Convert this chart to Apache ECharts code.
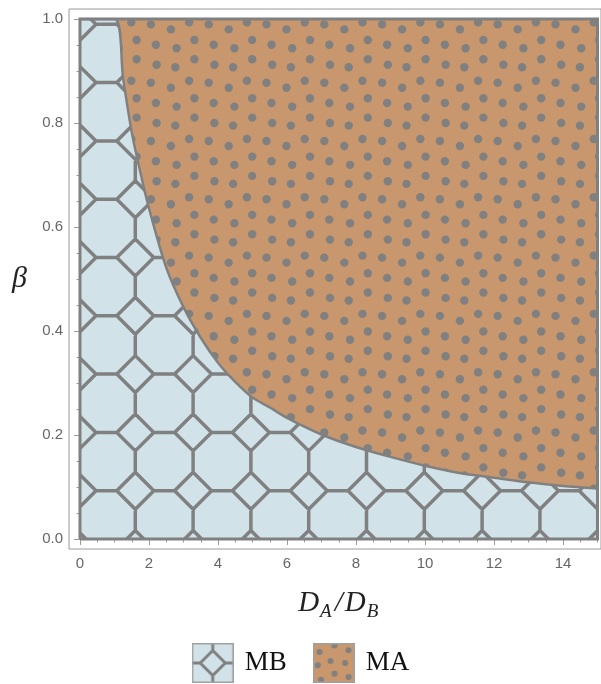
<!DOCTYPE html>
<html>
<head>
<meta charset="utf-8">
<script src="https://cdn.jsdelivr.net/npm/echarts@6/dist/echarts.min.js"></script>
<style>
html,body{margin:0;padding:0;background:#fff;}
#chart{width:601px;height:684px;}
</style>
</head>
<body>
<div id="chart"></div>
<script>
// ---------------- DATA ----------------
const seriesNames = ['MB', 'MA'];
// boundary between the two phases
const boundaryX    = [0, 1, 1.25, 1.5, 1.75, 2, 2.5, 3, 3.5, 4, 4.5, 5, 5.5, 6, 7, 8, 9, 10, 11, 12, 13, 14, 15];
const boundaryBeta = [1, 1, 0.886, 0.782, 0.705, 0.636, 0.522, 0.446, 0.387, 0.339, 0.302, 0.272, 0.253, 0.233, 0.201, 0.177, 0.158, 0.141, 0.127, 0.118, 0.109, 0.102, 0.097];
const xMajorTicks = [0, 2, 4, 6, 8, 10, 12, 14];
const xMinorTicks = [0, 0.5, 1, 1.5, 2, 2.5, 3, 3.5, 4, 4.5, 5, 5.5, 6, 6.5, 7, 7.5, 8, 8.5, 9, 9.5, 10, 10.5, 11, 11.5, 12, 12.5, 13, 13.5, 14, 14.5, 15];
const yMajorTicks = [0, 0.2, 0.4, 0.6, 0.8, 1.0];
const yMinorTicks = [0, 0.05, 0.1, 0.15, 0.2, 0.25, 0.3, 0.35, 0.4, 0.45, 0.5, 0.55, 0.6, 0.65, 0.7, 0.75, 0.8, 0.85, 0.9, 0.95, 1.0];
const xRange = [0, 15];
const yRange = [0, 1];

// ---------------- STYLE ----------------
const W = 601, H = 684;
const GRID = {left: 80, top: 19, width: 517.5, height: 520};
const FRAME_GAP = {left: 11, top: 10, right: 10, bottom: 10};
const GRAY = '#808080';
const MB_FILL = '#d1e3e9';
const MA_FILL = '#c9976d';
const FRAME_COLOR = '#9a9a9a';
const LABEL_COLOR = '#666666';
const PX = 57.8, PY = 58.3;           // pattern period (px)
const OCT = {ox: 55.3, oy: 471.7, h: 18.5, lw: 3.5};
const DOT = {ox: 230, oy: 21, r: 4.2};
const DOT_OFFS = [[0,0],[19.3,4.7],[40,8.3],[0,19.3],[20,24.7],[38.7,27.3],[-5.3,40.7],[14.3,42.7],[34.3,47.7]];

function octCanvas(w, h, x0, y0, half, lw) {
  const c = document.createElement('canvas'); c.width = w; c.height = h;
  const g = c.getContext('2d');
  g.fillStyle = MB_FILL; g.fillRect(0, 0, w, h);
  g.strokeStyle = GRAY; g.lineWidth = lw; g.lineJoin = 'miter';
  const i0 = Math.floor(-x0 / PX) - 1, i1 = Math.ceil((w - x0) / PX) + 1;
  const j0 = Math.floor(-y0 / PY) - 1, j1 = Math.ceil((h - y0) / PY) + 1;
  g.beginPath();
  for (let i = i0; i <= i1; i++) {
    for (let j = j0; j <= j1; j++) {
      const cx = x0 + i * PX, cy = y0 + j * PY;
      g.moveTo(cx - half, cy); g.lineTo(cx, cy - half); g.lineTo(cx + half, cy); g.lineTo(cx, cy + half); g.closePath();
      g.moveTo(cx + half, cy); g.lineTo(cx + PX - half, cy);
      g.moveTo(cx, cy + half); g.lineTo(cx, cy + PY - half);
    }
  }
  g.stroke();
  return c;
}
function dotCanvas(w, h, x0, y0, r) {
  const c = document.createElement('canvas'); c.width = w; c.height = h;
  const g = c.getContext('2d');
  g.fillStyle = MA_FILL; g.fillRect(0, 0, w, h);
  g.fillStyle = GRAY;
  const i0 = Math.floor(-x0 / PX) - 1, i1 = Math.ceil((w - x0) / PX) + 1;
  const j0 = Math.floor(-y0 / PY) - 1, j1 = Math.ceil((h - y0) / PY) + 1;
  for (let i = i0; i <= i1; i++) {
    for (let j = j0; j <= j1; j++) {
      DOT_OFFS.forEach(function (o) {
        g.beginPath();
        g.arc(x0 + i * PX + o[0], y0 + j * PY + o[1], r, 0, Math.PI * 2);
        g.fill();
      });
    }
  }
  return c;
}
function iconMB() {
  const c = document.createElement('canvas'); c.width = 42; c.height = 40;
  const g = c.getContext('2d');
  g.fillStyle = MB_FILL; g.fillRect(0, 0, 42, 40);
  g.strokeStyle = GRAY; g.lineWidth = 3;
  const cx = 21, cy = 20, hh = 12.5;
  g.beginPath();
  g.moveTo(cx - hh, cy); g.lineTo(cx, cy - hh); g.lineTo(cx + hh, cy); g.lineTo(cx, cy + hh); g.closePath();
  g.moveTo(0, cy); g.lineTo(cx - hh, cy);
  g.moveTo(cx + hh, cy); g.lineTo(42, cy);
  g.moveTo(cx, 0); g.lineTo(cx, cy - hh);
  g.moveTo(cx, cy + hh); g.lineTo(cx, 40);
  g.stroke();
  g.strokeStyle = '#a0a0a0'; g.lineWidth = 1.5; g.strokeRect(0.75, 0.75, 40.5, 38.5);
  return c.toDataURL();
}
function iconMA() {
  const c = document.createElement('canvas'); c.width = 42; c.height = 40;
  const g = c.getContext('2d');
  g.fillStyle = MA_FILL; g.fillRect(0, 0, 42, 40);
  g.fillStyle = GRAY;
  [[6.7,9],[21.7,2.5],[35.7,7.3],[17.7,18],[32.3,20],[5,22.3],[21.7,30.7],[35.7,34],[8.3,36.7]].forEach(function (p) {
    g.beginPath(); g.arc(p[0], p[1], 3, 0, Math.PI * 2); g.fill();
  });
  g.strokeStyle = '#a0a0a0'; g.lineWidth = 1.5; g.strokeRect(0.75, 0.75, 40.5, 38.5);
  return c.toDataURL();
}

const mbPattern = octCanvas(W, H, GRID.left + OCT.ox, GRID.top + OCT.oy, OCT.h, OCT.lw);
const maPattern = dotCanvas(W, H, GRID.left + DOT.ox, GRID.top + DOT.oy, DOT.r);

const boundary = boundaryX.map(function (x, i) { return [x, boundaryBeta[i]]; });
const outline = [[xRange[0], yRange[0]], [xRange[1], yRange[0]], [xRange[1], yRange[1]], [xRange[0], yRange[1]], [xRange[0], yRange[0]]];

const labelFont = {color: LABEL_COLOR, fontSize: 15, fontFamily: 'Liberation Sans'};
function xAx(pos, ticks, len, labels) {
  return {
    type: 'value', gridIndex: 0, min: xRange[0], max: xRange[1], interval: 0.5,
    position: pos, offset: 10,
    axisLine: {show: false}, splitLine: {show: false},
    axisTick: {show: true, inside: true, length: len, customValues: ticks, lineStyle: {color: FRAME_COLOR, width: 1}},
    axisLabel: labels ? Object.assign({show: true, customValues: ticks, margin: 7}, labelFont) : {show: false}
  };
}
function yAx(pos, ticks, len, labels) {
  return {
    type: 'value', gridIndex: 0, min: yRange[0], max: yRange[1], interval: 0.05,
    position: pos, offset: pos === 'left' ? FRAME_GAP.left : FRAME_GAP.right,
    axisLine: {show: false}, splitLine: {show: false},
    axisTick: {show: true, inside: true, length: len, customValues: ticks, lineStyle: {color: FRAME_COLOR, width: 1}},
    axisLabel: labels ? Object.assign({show: true, customValues: ticks, margin: 6, formatter: function (v) { return v.toFixed(1); }}, labelFont) : {show: false}
  };
}

const xAxes = [
  xAx('bottom', xMajorTicks, 6, true),
  xAx('bottom', xMinorTicks, 3.5, false),
  xAx('top', xMajorTicks, 6, false),
  xAx('top', xMinorTicks, 3.5, false),
  {type: 'value', gridIndex: 1, show: false, min: 0, max: 1}
];
Object.assign(xAxes[0], {
  name: '{d|D}{s|A}{d|/}{d|D}{s|B}', nameLocation: 'middle', nameGap: 36,
  nameTextStyle: {
    rich: {
      d: {fontFamily: 'Liberation Serif', fontStyle: 'italic', fontSize: 29, color: '#222', lineHeight: 36, verticalAlign: 'middle', padding: [0, 1, 0, 1]},
      s: {fontFamily: 'Liberation Serif', fontStyle: 'italic', fontSize: 19, color: '#222', lineHeight: 36, verticalAlign: 'bottom', padding: [0, 2, 0, 0]}
    }
  }
});
const yAxes = [
  yAx('left', yMajorTicks, 6, true),
  yAx('left', yMinorTicks, 3.5, false),
  yAx('right', yMajorTicks, 6, false),
  yAx('right', yMinorTicks, 3.5, false),
  {type: 'value', gridIndex: 1, show: false, min: 0, max: 1}
];
Object.assign(yAxes[0], {
  name: 'β', nameLocation: 'middle', nameRotate: 0, nameGap: 42,
  nameTextStyle: {fontFamily: 'Liberation Serif', fontStyle: 'italic', fontSize: 30, color: '#222'}
});

const chart = echarts.init(document.getElementById('chart'), null, {renderer: 'canvas'});
chart.setOption({
  animation: false,
  backgroundColor: '#ffffff',
  grid: [
    {left: GRID.left, top: GRID.top, width: GRID.width, height: GRID.height, containLabel: false},
    {left: GRID.left - FRAME_GAP.left, top: GRID.top - FRAME_GAP.top,
     width: GRID.width + FRAME_GAP.left + FRAME_GAP.right, height: GRID.height + FRAME_GAP.top + FRAME_GAP.bottom,
     show: true, borderColor: FRAME_COLOR, borderWidth: 1, backgroundColor: 'transparent'}
  ],
  xAxis: xAxes,
  yAxis: yAxes,
  legend: {
    data: [{name: seriesNames[0], icon: 'image://' + iconMB()}, {name: seriesNames[1], icon: 'image://' + iconMA()}],
    left: 'center', top: 643, padding: 0, itemWidth: 42, itemHeight: 40, itemGap: 26, selectedMode: false,
    textStyle: {fontFamily: 'Liberation Serif', fontSize: 27, color: '#111', padding: [0, 0, 0, 6]}
  },
  series: [
    {
      name: seriesNames[0], type: 'line', xAxisIndex: 0, yAxisIndex: 0, data: boundary,
      smooth: 0.3, showSymbol: false, symbol: 'none', z: 3,
      color: MB_FILL,
      lineStyle: {color: GRAY, width: 2.5},
      areaStyle: {origin: 'start', opacity: 1, color: {image: mbPattern, repeat: 'repeat'}}
    },
    {
      name: seriesNames[1], type: 'line', xAxisIndex: 0, yAxisIndex: 0, data: boundary,
      smooth: 0.3, showSymbol: false, symbol: 'none', z: 2,
      color: MA_FILL,
      lineStyle: {width: 0, opacity: 0},
      areaStyle: {origin: 'end', opacity: 1, color: {image: maPattern, repeat: 'repeat'}}
    },
    {
      name: 'outline', type: 'line', xAxisIndex: 0, yAxisIndex: 0, data: outline,
      showSymbol: false, symbol: 'none', clip: false, silent: true, z: 5,
      lineStyle: {color: GRAY, width: 3, join: 'miter'}
    }
  ]
});
</script>
</body>
</html>
